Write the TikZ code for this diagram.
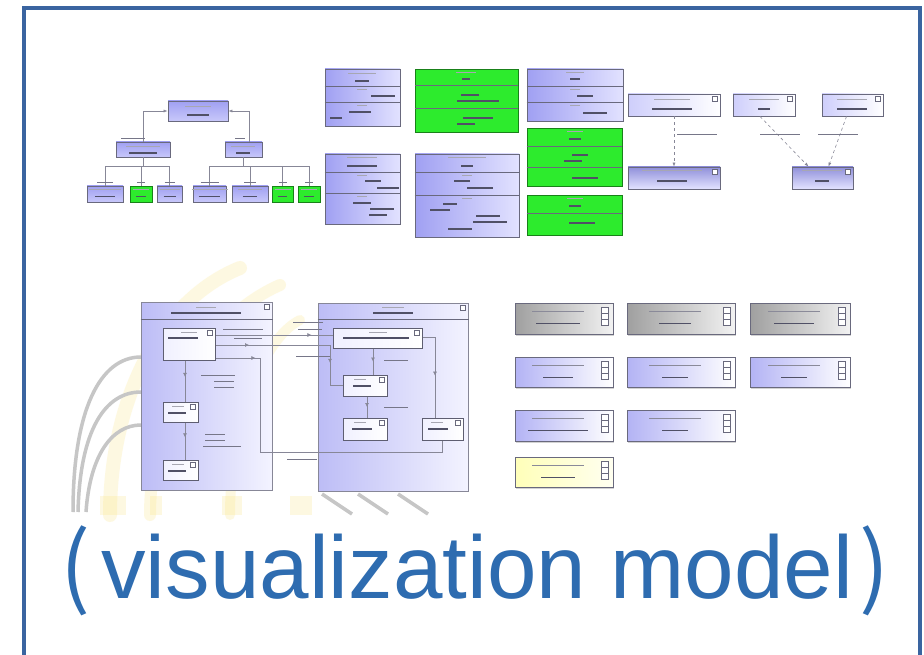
\documentclass[tikz,border=0pt]{standalone}
\usepackage{fontspec}
\setmainfont{Liberation Sans}
\newfontfamily\cjk{Noto Sans CJK SC}
\usetikzlibrary{fit,shadows,arrows.meta,decorations.markings}

\definecolor{framecol}{RGB}{58,100,160}
\definecolor{titlecol}{RGB}{46,108,176}
\definecolor{umlp}{RGB}{160,160,242}
\definecolor{umlpl}{RGB}{226,226,255}
\definecolor{umlg}{RGB}{45,235,45}
\definecolor{edgec}{RGB}{105,105,125}
\definecolor{txtc}{RGB}{60,60,85}
\definecolor{wmyel}{RGB}{250,226,120}

\tikzset{
  box/.style={inner sep=0pt, draw=edgec, line width=0.8pt},
  treebox/.style={box, top color=umlp, bottom color=umlpl!60!umlp},
  pbox/.style={box, left color=umlp, right color=umlpl},
  gbox/.style={box, fill=umlg, draw=umlg!55!black},
  notebox/.style={box, left color=umlpl!70!umlp, right color=white},
  depbox/.style={box, top color=umlp!90!black, bottom color=umlpl},
  compbox/.style={box, draw=edgec!80, line width=1pt, left color=umlp!70!white, right color=umlpl!40!white},
  partbox/.style={box, draw=edgec!90!black, line width=1pt, left color=umlpl!50!white, right color=white},
  graybox/.style={box, line width=1pt, left color=gray!75, right color=gray!10,
    drop shadow={shadow xshift=1pt, shadow yshift=-1.5pt, fill=gray!70}},
  lilabox/.style={box, line width=1pt, left color=umlp!80!white, right color=white,
    drop shadow={shadow xshift=1pt, shadow yshift=-1.5pt, fill=gray!70}},
  yelbox/.style={box, line width=1pt, left color={rgb,255:red,255;green,255;blue,185}, right color={rgb,255:red,255;green,255;blue,240},
    drop shadow={shadow xshift=1pt, shadow yshift=-1.5pt, fill=gray!70}},
  sep/.style={draw=edgec, line width=0.6pt},
  conn/.style={draw=edgec!80, line width=0.6pt},
  depline/.style={conn, dashed, dash pattern=on 3pt off 3pt},
  midarrow/.style={postaction={decorate}, decoration={markings,
    mark=at position #1 with {\arrow{Latex[length=4pt,width=4pt]}}}},
  midarrow/.default=0.5,
  twoarrows/.style 2 args={postaction={decorate}, decoration={markings,
    mark=at position #1 with {\arrow{Latex[length=4pt,width=4pt]}},
    mark=at position #2 with {\arrow{Latex[length=4pt,width=4pt]}}}},
  lightbarst/.style={draw=txtc!45, line width=1pt},
  darkbarst/.style={draw=txtc!90, line width=1.6pt},
  midbarst/.style={draw=txtc!70, line width=1pt},
  iconst/.style={draw=edgec, line width=0.5pt, fill=white},
}

% text rows too small to read, drawn as strokes: x-centre, y, width
\newcommand\lightbar[3]{\draw[lightbarst] (#1-#3/2,#2) -- (#1+#3/2,#2);}
\newcommand\darkbar[3]{\draw[darkbarst] (#1-#3/2,#2) -- (#1+#3/2,#2);}
\newcommand\midbar[3]{\draw[midbarst] (#1-#3/2,#2) -- (#1+#3/2,#2);}
\newcommand\cornericon[1]{\draw[iconst] ([xshift=-8pt,yshift=-2.5pt]#1.north east) rectangle ([xshift=-3pt,yshift=-8pt]#1.north east);}

\begin{document}
\begin{tikzpicture}[x=1pt,y=-1pt]
\useasboundingbox (0,0) rectangle (924,655);
\clip (0,0) rectangle (924,655);
\fill[white] (0,0) rectangle (924,655);

% ---------- faint watermark behind the lower-left diagram ----------
\begin{scope}[opacity=0.22, line cap=round]
  \draw[wmyel, line width=14pt] (110,515) .. controls (110,400) and (160,300) .. (240,268);
  \draw[wmyel, line width=12pt] (150,515) .. controls (150,420) and (200,320) .. (280,285);
  \draw[wmyel, line width=10pt] (230,515) .. controls (230,430) and (260,340) .. (300,320);
  \fill[wmyel] (100,496) rectangle (126,515);
  \fill[wmyel] (150,496) rectangle (162,515);
  \fill[wmyel] (222,496) rectangle (242,515);
  \fill[wmyel] (290,496) rectangle (312,515);
\end{scope}
\begin{scope}[draw=gray!45, line width=3.5pt]
  \draw (73,512) .. controls (73,410) and (100,357) .. (141,357);
  \draw (78,512) .. controls (80,430) and (105,392) .. (141,392);
  \draw (86,512) .. controls (90,455) and (112,425) .. (141,425);
  \draw (322,494) -- (352,514);
  \draw (358,494) -- (388,514);
  \draw (398,494) -- (428,514);
\end{scope}

% ---------- class hierarchy (top left) ----------
\node[treebox, fit={(168,101)(228,121)}] (R) {};
\node[treebox, fit={(116,142)(170,157)}] (LC) {};
\node[treebox, fit={(225,142)(262,157)}] (RC) {};
\node[treebox, fit={(87,186)(123,202)}] (L1) {};
\node[gbox, fit={(130,186)(152,202)}] (L2) {};
\node[treebox, fit={(157,186)(182,202)}] (L3) {};
\node[treebox, fit={(193,186)(226,202)}] (L4) {};
\node[treebox, fit={(232,186)(268,202)}] (L5) {};
\node[gbox, fit={(272,186)(293,202)}] (L6) {};
\node[gbox, fit={(298,186)(320,202)}] (L7) {};

\draw[conn, {Latex[length=4pt]}-] (R.west) -| (LC.north);
\draw[conn, {Latex[length=4pt]}-] (R.east) -| ([xshift=6pt]RC.north);
\foreach \n in {L1,L2,L3}{\draw[conn] (\n.north) -- (\n.north |- 0,166) -| (LC.south);}
\foreach \n in {L4,L5,L6,L7}{\draw[conn] (\n.north) -- (\n.north |- 0,166) -| (RC.south);}

\lightbar{198}{107}{26}\darkbar{198}{115}{22}
\lightbar{143}{147}{34}\darkbar{143}{153}{28}
\lightbar{243}{147}{24}\darkbar{243}{153}{14}
\foreach \n/\w in {L1/16,L2/8,L3/10,L4/18,L5/12,L6/8,L7/8}{
  \draw[lightbarst] ([xshift=-\w pt, yshift=-4pt]\n.north) -- ([xshift=\w pt, yshift=-4pt]\n.north);
  \draw[darkbarst] ([xshift=-0.6*\w pt, yshift=-11pt]\n.north) -- ([xshift=0.6*\w pt, yshift=-11pt]\n.north);
  \draw[midbarst] ([xshift=-0.5*\w pt, yshift=3pt]\n.north) -- ([xshift=0.5*\w pt, yshift=3pt]\n.north);
}
\midbar{133}{139}{24}\midbar{240}{139}{10}

% ---------- class boxes with compartments ----------
\node[pbox, fit={(325,69)(400,126)}] (A) {};
\node[gbox, fit={(415,69)(518,132)}] (B) {};
\node[pbox, fit={(527,69)(623,121)}] (C) {};
\node[gbox, fit={(527,128)(622,186)}] (D) {};
\node[gbox, fit={(527,195)(622,235)}] (E) {};
\node[pbox, fit={(325,154)(400,224)}] (F) {};
\node[pbox, fit={(415,154)(519,237)}] (G) {};

\foreach \n/\y in {A/86,A/102,B/85,B/108,C/86,C/102,D/146,D/167,E/213,F/172,F/193,G/172,G/195}{
  \draw[sep] (\n.west |- 0,\y) -- (\n.east |- 0,\y);}

\lightbar{362}{74}{28}\darkbar{362}{81}{14}
\lightbar{362}{90}{10}\darkbar{383}{96}{24}
\lightbar{362}{106}{10}\darkbar{360}{112}{22}\darkbar{336}{118}{12}

\lightbar{466}{73}{20}\darkbar{466}{79}{8}
\darkbar{470}{95}{18}\darkbar{478}{101}{42}
\darkbar{478}{118}{30}\darkbar{466}{124}{18}

\lightbar{575}{73}{18}\darkbar{575}{79}{10}
\lightbar{575}{90}{10}\darkbar{585}{96}{16}
\lightbar{575}{106}{10}\darkbar{595}{113}{24}

\lightbar{575}{132}{16}\darkbar{575}{139}{12}
\darkbar{580}{155}{16}\darkbar{573}{161}{18}
\darkbar{585}{178}{26}

\lightbar{575}{199}{16}\darkbar{575}{206}{12}
\darkbar{582}{223}{26}

\lightbar{362}{158}{30}\darkbar{362}{166}{30}
\lightbar{362}{176}{10}\darkbar{373}{181}{16}\darkbar{388}{188}{22}
\lightbar{362}{197}{10}\darkbar{362}{203}{18}\darkbar{382}{209}{24}\darkbar{378}{215}{18}

\lightbar{467}{158}{38}\darkbar{467}{166}{12}
\lightbar{467}{176}{10}\darkbar{462}{181}{16}\darkbar{480}{188}{26}
\lightbar{467}{199}{10}\darkbar{450}{204}{14}\darkbar{440}{210}{20}
\darkbar{488}{216}{24}\darkbar{490}{222}{34}\darkbar{460}{229}{24}

% ---------- dependency diagram (top right) ----------
\node[notebox, fit={(628,94)(720,116)}] (H) {};
\node[notebox, fit={(733,94)(795,116)}] (I) {};
\node[notebox, fit={(822,94)(883,116)}] (J) {};
\node[depbox, fit={(628,167)(720,189)}] (K) {};
\node[depbox, fit={(792,167)(853,189)}] (L) {};
\foreach \n in {H,I,J,K,L}{\cornericon{\n}}

\draw[depline, -{Latex[length=4pt]}] (H.south) -- (K.north);
\draw[depline, -{Latex[length=4pt]}] ([xshift=-4pt]I.south) -- ([xshift=-14pt]L.north);
\draw[depline, -{Latex[length=4pt]}] ([xshift=-6pt]J.south) -- ([xshift=6pt]L.north);

\lightbar{672}{100}{36}\darkbar{672}{109}{40}
\lightbar{764}{100}{30}\darkbar{764}{109}{12}
\lightbar{852}{100}{30}\darkbar{852}{109}{30}
\lightbar{672}{171}{60}\darkbar{672}{181}{30}
\lightbar{822}{171}{40}\darkbar{822}{181}{14}
\midbar{697}{135}{40}\midbar{780}{135}{40}\midbar{838}{135}{40}

% ---------- interaction diagram (bottom left) ----------
\node[compbox, fit={(141,302)(272,490)}] (P) {};
\node[compbox, fit={(318,303)(468,491)}] (Q) {};
\draw[sep] (P.west |- 0,319) -- (P.east |- 0,319);
\draw[sep] (Q.west |- 0,319) -- (Q.east |- 0,319);
\cornericon{P}\cornericon{Q}

\node[partbox, fit={(163,328)(215,360)}] (P1) {};
\node[partbox, fit={(163,402)(198,422)}] (P2) {};
\node[partbox, fit={(163,460)(198,480)}] (P3) {};
\node[partbox, fit={(333,328)(422,348)}] (Q1) {};
\node[partbox, fit={(343,375)(387,396)}] (Q2) {};
\node[partbox, fit={(343,418)(387,440)}] (Q3) {};
\node[partbox, fit={(422,418)(463,440)}] (Q4) {};
\foreach \n in {P1,P2,P3,Q1,Q2,Q3,Q4}{\cornericon{\n}}

\draw[conn, midarrow=0.4] (P1.south -| 185,0) -- (P2.north -| 185,0);
\draw[conn, midarrow=0.4] (P2.south -| 185,0) -- (P3.north -| 185,0);
\draw[conn, midarrow=0.82] (P1.east |- 0,335) -- (Q1.west |- 0,335);
\draw[conn, twoarrows={0.2}{0.79}] (P1.east |- 0,345) -- (330,345) |- (Q2.west);
\draw[conn, midarrow=0.12] (P1.east |- 0,358) -- (260,358) -- (260,452) -| (Q4.south);
\draw[conn, midarrow=0.5] (Q1.south -| 373,0) -- (Q2.north -| 373,0);
\draw[conn, midarrow=0.5] (Q2.south -| 367,0) -- (Q3.north -| 367,0);
\draw[conn, midarrow=0.55] (Q1.east |- 0,337) -- (435,337) -- (Q4.north -| 435,0);

\lightbar{206}{307}{20}\darkbar{206}{313}{70}
\lightbar{393}{307}{22}\darkbar{393}{313}{40}
\lightbar{189}{332}{16}\darkbar{183}{338}{30}
\lightbar{378}{332}{18}\darkbar{376}{338}{66}
\lightbar{178}{406}{12}\darkbar{177}{413}{18}
\lightbar{178}{464}{12}\darkbar{177}{471}{18}
\lightbar{360}{379}{12}\darkbar{362}{386}{18}
\lightbar{360}{422}{12}\darkbar{362}{429}{20}
\lightbar{437}{422}{12}\darkbar{438}{429}{20}

\midbar{218}{375}{34}\midbar{224}{381}{20}\midbar{224}{387}{20}
\midbar{215}{434}{20}\midbar{215}{440}{20}\midbar{222}{446}{38}
\midbar{243}{329}{40}\midbar{248}{338}{28}
\midbar{308}{322}{30}\midbar{310}{329}{24}\midbar{313}{356}{34}
\midbar{302}{459}{30}
\midbar{396}{360}{24}\midbar{396}{407}{24}

% ---------- stereotype palette (right) ----------
\foreach \n/\xa/\ya/\xb/\yb/\st/\w in {
  S11/515/303/613/334/graybox/44, S12/627/303/735/334/graybox/32, S13/750/303/850/334/graybox/40,
  S21/515/357/613/387/lilabox/30, S22/627/357/735/387/lilabox/26, S23/750/357/850/387/lilabox/26,
  S31/515/410/613/441/lilabox/60, S32/627/410/735/441/lilabox/26,
  S41/515/457/613/487/yelbox/34}{
  \node[\st, fit={(\xa,\ya)(\xb,\yb)}] (\n) {};
  \draw[iconst] ([xshift=-12pt,yshift=-5pt]\n.north east) rectangle ([xshift=-5pt,yshift=-23pt]\n.north east);
  \draw[iconst] ([xshift=-12pt,yshift=-11pt]\n.north east) -- ([xshift=-5pt,yshift=-11pt]\n.north east);
  \draw[iconst] ([xshift=-12pt,yshift=-17pt]\n.north east) -- ([xshift=-5pt,yshift=-17pt]\n.north east);
  \draw[lightbarst, draw=txtc!60] ([xshift=-32pt,yshift=-9pt]\n.north) -- ([xshift=20pt,yshift=-9pt]\n.north);
  \draw[darkbarst] ([xshift=-6pt-\w pt/2,yshift=-21pt]\n.north) -- ([xshift=-6pt+\w pt/2,yshift=-21pt]\n.north);
}

% ---------- caption and frame ----------
\node[anchor=base west, inner sep=0pt, text=titlecol, font=\fontsize{89}{89}\selectfont] (title)
  at (60,598) {{\cjk (}\kern11pt visualization model\kern6pt{\cjk )}};

\draw[framecol, line width=3.5pt] (24,680) -- (24,8) -- (920,8) -- (920,680);
\end{tikzpicture}
\end{document}
